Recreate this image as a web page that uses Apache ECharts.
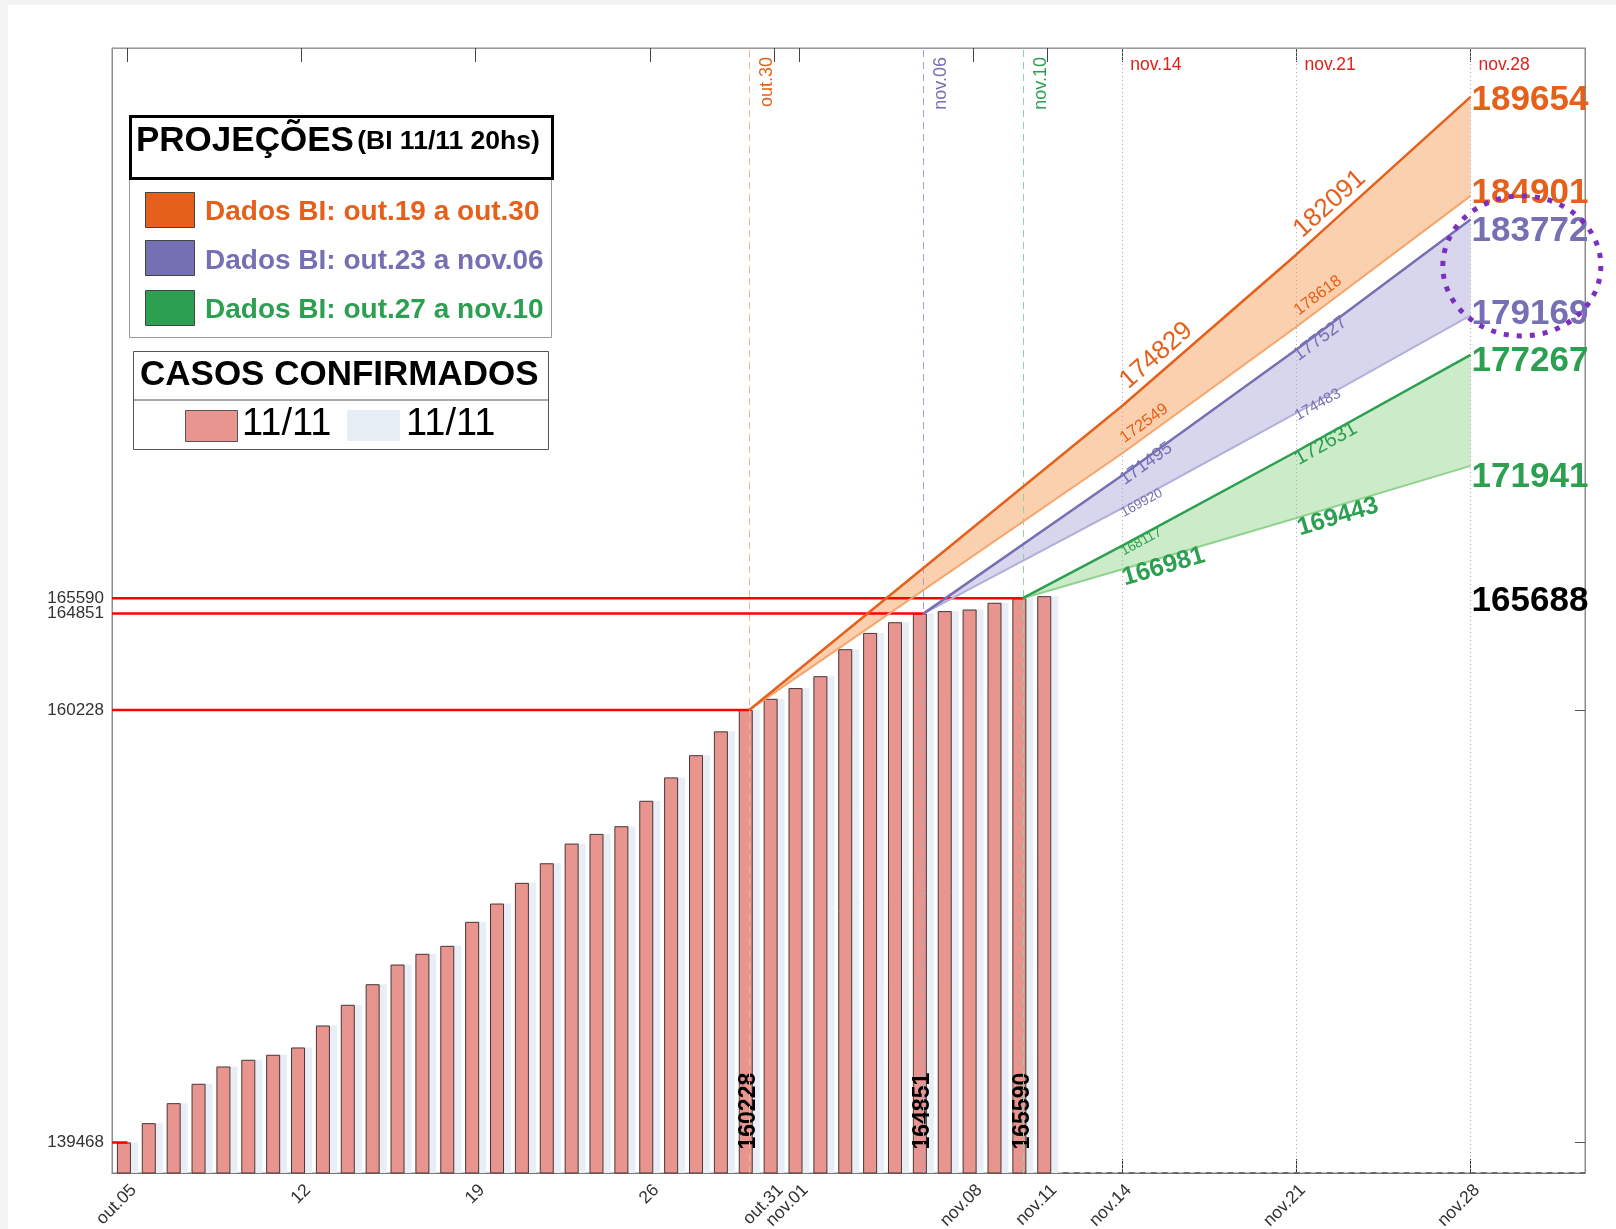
<!DOCTYPE html>
<html><head><meta charset="utf-8">
<script src="https://cdn.jsdelivr.net/npm/echarts@6/dist/echarts.min.js"></script>
<style>html,body{margin:0;padding:0;background:#f4f4f5}#c{width:1616px;height:1229px}</style>
</head><body><div id="c"></div>
<script>
// ---------------- DATA ----------------
const barDays = [0,1,2,3,4,5,6,7,8,9,10,11,12,13,14,15,16,17,18,19,20,21,22,23,24,25,26,27,28,29,30,31,32,33,34,35,36,37];
const casos = [139468,140393,141353,142283,143113,143435,143675,144025,145081,146074,
               147062,148007,148521,148905,150056,150934,151927,152868,153813,154278,
               154646,155866,156989,158056,159199,160228,160761,161276,161847,163143,
               163924,164438,164851,164971,165048,165372,165590,165688];
const barLabelDays = [25, 32, 36];

const xTickDays = [0,7,14,21,26,27,34,37,40,47,54];
const xTickLabels = ['out.05','12','19','26','out.31','nov.01','nov.08','nov.11','nov.14','nov.21','nov.28'];
const yTickValues = [139468,160228,164851,165590];

const startDays = [25, 32, 36];
const startLabels = ['out.30','nov.06','nov.10'];
const startValues = [160228, 164851, 165590];
const projDays = [40, 47, 54];
const projLabels = ['nov.14','nov.21','nov.28'];
const orangeUpper = [174829, 182091, 189654];
const orangeLower = [172549, 178618, 184901];
const purpleUpper = [171495, 177527, 183772];
const purpleLower = [169920, 174483, 179169];
const greenUpper  = [168117, 172631, 177267];
const greenLower  = [166981, 169443, 171941];
const lastValue = 165688;

const legendTitles = ['Dados BI: out.19 a out.30','Dados BI: out.23 a nov.06','Dados BI: out.27 a nov.10'];

// ---------------- STYLE ----------------
const FONT = '"Liberation Sans", Arial, Helvetica, sans-serif';
const XMIN = -0.62, XMAX = 58.6, YMIN = 138000, YMAX = 192000;
const C = {
  orange: '#e5601a', orangeBand: 'rgba(250,200,160,0.85)', orangeLow: '#f6a56a',
  purple: '#7570b3', purpleBand: 'rgba(205,204,232,0.8)', purpleLow: '#b3b0da',
  green: '#2ca050', greenBand: 'rgba(190,230,188,0.8)', greenLow: '#8fd38f',
  pink: '#e8948f', light: '#e8eef6', red: '#ff0000'
};
// label styling per projection line: font sizes, weights, offsets of the text baseline start from the line point (px)
const projs = [
  {day:startDays[0], v0:startValues[0], up:orangeUpper, lo:orangeLower, c:C.orange, band:C.orangeBand, low:C.orangeLow,
   fs:{up:[26,26], lo:[16.5,16.5]}, fw:{up:'normal', lo:'normal'}, dx:{up:[7,7], lo:[3,3]}, dy:{up:[-15,-15], lo:[-9,-10]}},
  {day:startDays[1], v0:startValues[1], up:purpleUpper, lo:purpleLower, c:C.purple, band:C.purpleBand, low:C.purpleLow,
   fs:{up:[18,18.5], lo:[13.5,15]}, fw:{up:'normal', lo:'normal'}, dx:{up:[3,3], lo:[2,2]}, dy:{up:[11,13], lo:[10,8.5]}},
  {day:startDays[2], v0:startValues[2], up:greenUpper, lo:greenLower, c:C.green, band:C.greenBand, low:C.greenLow,
   fs:{up:[13.5,20.5], lo:[25.5,25]}, fw:{up:'normal', lo:'bold'}, dx:{up:[2,3], lo:[3,4]}, dy:{up:[11,15], lo:[18,19]}}
];

const chart = echarts.init(document.getElementById('c'), null, {renderer:'canvas'});

function pts(p, arr){ return [[p.day, p.v0]].concat(projDays.map((d,i)=>[d, arr[i]])); }

const series = [];
series.push({
  type:'bar', name:'11/11 a', z:3, barWidth:14, barGap:'-50%',
  itemStyle:{color:C.pink, borderColor:'#4a3636', borderWidth:1},
  data: barDays.map((d,i)=>{
    const item = {value:[d, casos[i]]};
    if (barLabelDays.indexOf(d) >= 0) {
      item.label = {show:true, position:'insideBottom', rotate:90, align:'left', verticalAlign:'middle',
        distance:24, offset:[0,3], formatter:String(casos[i]), color:'#000', fontSize:23, fontWeight:'bold', fontFamily:FONT};
    }
    return item;
  })
});
series.push({
  type:'bar', name:'11/11 b', z:2, barWidth:14, barGap:'-50%',
  itemStyle:{color:C.light},
  data: barDays.map((d,i)=>[d, casos[i]])
});
projs.forEach(p=>{
  const up = pts(p, p.up), lo = pts(p, p.lo);
  series.push({
    type:'custom', z:4, silent:true, clip:true,
    data: up,
    renderItem:(params, api)=>{
      if (params.dataIndex !== 0) return null;
      const poly = up.map(q=>api.coord(q)).concat(lo.slice().reverse().map(q=>api.coord(q)));
      return {type:'polygon', shape:{points:poly}, style:{fill:p.band}};
    }
  });
});
series.push({type:'line', z:6, symbol:'none', silent:true, lineStyle:{color:C.red, width:2.5}, data:[[XMIN, casos[0]],[0, casos[0]]]});
startDays.forEach((d,i)=>{
  series.push({type:'line', z:6, symbol:'none', silent:true, lineStyle:{color:C.red, width:2.5}, data:[[XMIN, startValues[i]],[d, startValues[i]]]});
});
projs.forEach(p=>{
  series.push({type:'line', z:7, symbol:'none', silent:true, lineStyle:{color:p.low, width:2}, data:pts(p, p.lo)});
  series.push({type:'line', z:8, symbol:'none', silent:true, lineStyle:{color:p.c, width:2.5}, data:pts(p, p.up)});
});
series.push({type:'line', z:5, symbol:'none', silent:true, lineStyle:{color:'#555', width:1.5, type:[6,5]}, data:[[37.6, YMIN],[XMAX, YMIN]]});
const refColors = ['#f0b690', '#a7a3cf', '#95cfa5'];
const refLabelColors = [C.orange, C.purple, C.green];
const mlData = [];
startDays.forEach((d,i)=>mlData.push({xAxis:d, lineStyle:{color:refColors[i], type:[7,5], width:1},
  label:{show:true, formatter:startLabels[i], position:'insideEndBottom', distance:9, color:refLabelColors[i], fontSize:18, fontFamily:FONT}}));
projDays.forEach((d,i)=>mlData.push({xAxis:d, lineStyle:{color:'#b9a9a9', type:[1,3], width:1}, label:{show:false}}));
series.push({type:'line', z:1, symbol:'none', silent:true, data:[],
  markLine:{silent:true, symbol:['none','none'], animation:false, data:mlData}});

const yLabelStyle = {fontSize:17, color:'#333', fontFamily:FONT, margin:8, hideOverlap:false, formatter:(v)=>String(Math.round(v))};
const option = {
  animation:false,
  backgroundColor:'#f4f4f5',
  grid:{left:112, right:31, top:48, bottom:56, show:true, borderColor:'#8c8c8c', borderWidth:1, outerBoundsMode:'none'},
  xAxis:[
    {type:'value', min:XMIN, max:XMAX, position:'bottom',
     axisLine:{show:true, onZero:false, lineStyle:{color:'#777'}},
     axisTick:{show:true, inside:true, length:14, customValues:xTickDays, lineStyle:{color:'#333'}},
     axisLabel:{show:true, customValues:xTickDays, rotate:45, margin:8, verticalAlign:'top', fontSize:17.5, color:'#333', fontFamily:FONT, hideOverlap:false,
       formatter:(v)=>{ const k = xTickDays.indexOf(Math.round(v)); return k>=0 ? xTickLabels[k] : ''; }},
     splitLine:{show:false}},
    {type:'value', min:XMIN, max:XMAX, position:'top',
     axisLine:{show:true, onZero:false, lineStyle:{color:'#999'}},
     axisTick:{show:true, inside:true, length:14, customValues:xTickDays, lineStyle:{color:'#444'}},
     axisLabel:{show:false}, splitLine:{show:false}}
  ],
  yAxis:[
    {type:'value', min:YMIN, max:YMAX, position:'left',
     axisLine:{show:true, onZero:false, lineStyle:{color:'#8c8c8c'}},
     axisTick:{show:false},
     axisLabel:Object.assign({show:true, customValues:[yTickValues[0], yTickValues[1], yTickValues[2]]}, yLabelStyle),
     splitLine:{show:false}},
    {type:'value', min:YMIN, max:YMAX, position:'right',
     axisLine:{show:true, onZero:false, lineStyle:{color:'#8c8c8c'}},
     axisTick:{show:true, inside:true, length:10, customValues:[yTickValues[0], yTickValues[1], lastValue], lineStyle:{color:'#555'}},
     axisLabel:{show:false}, splitLine:{show:false}},
    {type:'value', min:YMIN, max:YMAX, position:'left',
     axisLine:{show:false, onZero:false}, axisTick:{show:false},
     axisLabel:Object.assign({show:true, customValues:[yTickValues[3]]}, yLabelStyle),
     splitLine:{show:false}}
  ],
  series: series
};
chart.setOption(option);

// ---------------- annotations (positions from the chart's own scales) ----------------
function px(p){ return chart.convertToPixel({gridIndex:0}, p); }
const ann = [];
const hidden = {color:'rgba(0,0,0,0)', opacity:1};
const rightVals = [
  [orangeUpper[2], C.orange, 3], [orangeLower[2], C.orange, -3],
  [purpleUpper[2], C.purple, 12], [purpleLower[2], C.purple, -1],
  [greenUpper[2], C.green, 6], [greenLower[2], C.green, 11],
  [lastValue, '#000', 5]
];
rightVals.forEach(r=>{
  ann.push({value:[projDays[2], r[0]], itemStyle:hidden,
    label:{show:true, formatter:String(r[0]), position:'right', distance:1, offset:[0, r[2]],
      fontSize:35, fontWeight:'bold', color:r[1], fontFamily:FONT, opacity:1}});
});
projDays.forEach((d,i)=>{
  ann.push({value:[d, YMAX], itemStyle:hidden,
    label:{show:true, formatter:projLabels[i], position:'right', distance:8, offset:[0,17],
      fontSize:17.5, color:'#e0201a', fontFamily:FONT, opacity:1}});
});

// angled labels along projection lines
const angLabels = [];
projs.forEach(p=>{
  ['up','lo'].forEach(which=>{
    const arr = p[which];
    [0,1].forEach(k=>{
      const a = px([projDays[k], arr[k]]), b = px([projDays[k+1], arr[k+1]]);
      const ang = Math.atan2(-(b[1]-a[1]), b[0]-a[0]);
      const fs = p.fs[which][k];
      const d = 0.16 * fs; // baseline above box bottom
      const tx = a[0] + p.dx[which][k], ty = a[1] + p.dy[which][k];
      angLabels.push({type:'text', x: tx + d*Math.sin(ang), y: ty + d*Math.cos(ang), rotation:ang, z:30, silent:true,
        style:{text:String(arr[k]), fill:p.c, fontSize:fs, fontWeight:p.fw[which], fontFamily:FONT,
          align:'left', verticalAlign:'bottom'}});
    });
  });
});

const circ = px([56.06, 181540]);

chart.setOption({
  series: series.concat([{type:'scatter', z:20, silent:true, symbol:'circle', symbolSize:0.01, clip:false,
    itemStyle:{opacity:1}, emphasis:{disabled:true}, data:ann}]),
  graphic: [
    {type:'rect', left:8, top:5, shape:{width:1616, height:1229}, style:{fill:'#ffffff'}, z:-10, silent:true}
  ].concat(angLabels).concat([
    {type:'rect', left:129, top:177, shape:{width:422, height:160}, style:{fill:'#fff', stroke:'#9a9a9a', lineWidth:1}, z:50},
    {type:'rect', left:129, top:115, shape:{width:422, height:62}, style:{fill:'#fff', stroke:'#000', lineWidth:3}, z:52},
    {type:'text', left:136, top:124, z:53, style:{text:'{a|PROJEÇÕES} {b|(BI 11/11 20hs)}', fill:'#000',
      rich:{a:{fontSize:35, fontWeight:'bold', fontFamily:FONT, fill:'#000'}, b:{fontSize:26.5, fontWeight:'bold', fontFamily:FONT, fill:'#000'}}}},
    {type:'rect', left:145, top:192, shape:{width:49, height:35}, style:{fill:C.orange, stroke:'#444', lineWidth:1}, z:51},
    {type:'rect', left:145, top:240, shape:{width:49, height:35}, style:{fill:C.purple, stroke:'#444', lineWidth:1}, z:51},
    {type:'rect', left:145, top:290, shape:{width:49, height:35}, style:{fill:C.green, stroke:'#444', lineWidth:1}, z:51},
    {type:'text', left:205, top:198, z:51, style:{text:legendTitles[0], fill:C.orange, fontSize:28, fontWeight:'bold', fontFamily:FONT}},
    {type:'text', left:205, top:247, z:51, style:{text:legendTitles[1], fill:C.purple, fontSize:28, fontWeight:'bold', fontFamily:FONT}},
    {type:'text', left:205, top:296, z:51, style:{text:legendTitles[2], fill:C.green, fontSize:28, fontWeight:'bold', fontFamily:FONT}},
    {type:'rect', left:133, top:351, shape:{width:415, height:98}, style:{fill:'#fff', stroke:'#555', lineWidth:1}, z:50},
    {type:'line', shape:{x1:133, y1:400, x2:548, y2:400}, style:{stroke:'#555', lineWidth:1}, z:51},
    {type:'text', left:140, top:358, z:51, style:{text:'CASOS CONFIRMADOS', fill:'#000', fontSize:35, fontWeight:'bold', fontFamily:FONT}},
    {type:'rect', left:185, top:410, shape:{width:52, height:31}, style:{fill:C.pink, stroke:'#555', lineWidth:1}, z:51},
    {type:'text', left:242, top:406, z:51, style:{text:'11/11', fill:'#000', fontSize:38, fontFamily:FONT}},
    {type:'rect', left:347, top:410, shape:{width:53, height:31}, style:{fill:C.light}, z:51},
    {type:'text', left:406, top:406, z:51, style:{text:'11/11', fill:'#000', fontSize:38, fontFamily:FONT}},
    {type:'ellipse', shape:{cx:circ[0], cy:circ[1], rx:79, ry:70}, style:{fill:'none', stroke:'#7b2fbe', lineWidth:5, lineDash:[5,8]}, z:60}
  ])
});
</script></body></html>
